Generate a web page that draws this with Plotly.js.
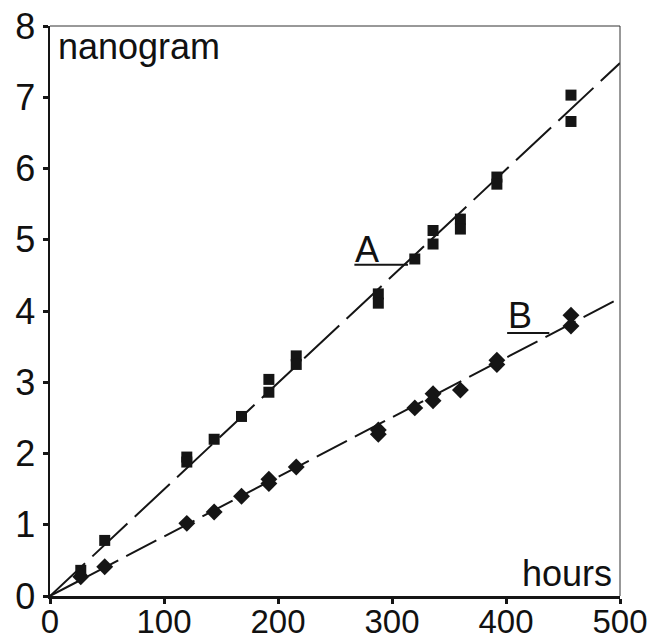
<!DOCTYPE html>
<html>
<head>
<meta charset="utf-8">
<script src="https://cdn.plot.ly/plotly-3.0.1.min.js"></script>
<style>html,body{margin:0;padding:0;background:#fff;}#chart{width:660px;height:643px;}</style>
</head>
<body>
<div id="chart"></div>
<script>
// Series A (squares)
const hoursA = [27, 48, 120, 120, 144, 168, 192, 192, 216, 216, 288, 288, 320, 336, 336, 360, 360, 392, 392, 457, 457];
const ngA    = [0.36, 0.78, 1.95, 1.88, 2.20, 2.52, 3.04, 2.86, 3.37, 3.25, 4.24, 4.11, 4.73, 5.13, 4.94, 5.29, 5.15, 5.88, 5.78, 7.03, 6.66];
// Series B (diamonds)
const hoursB = [27, 48, 120, 144, 168, 192, 192, 216, 288, 288, 320, 336, 336, 360, 392, 392, 457, 457];
const ngB    = [0.27, 0.41, 1.02, 1.18, 1.40, 1.58, 1.64, 1.81, 2.27, 2.33, 2.64, 2.84, 2.74, 2.89, 3.25, 3.31, 3.79, 3.94];
// Fitted lines
const fitX = [0, 500];
const fitA = [0, 7.48];
const fitB = [0, 4.18];
// Ticks
const xTicks = [0, 100, 200, 300, 400, 500];
const yTicks = [0, 1, 2, 3, 4, 5, 6, 7, 8];

const ink = '#151515';
const font = 'Liberation Sans, Arial, Helvetica, sans-serif';

const data = [
  {x: fitX, y: fitA, mode: 'lines', line: {color: ink, width: 2, dash: '48px,10px'}, hoverinfo: 'skip'},
  {x: fitX, y: fitB, mode: 'lines', line: {color: ink, width: 2, dash: '34px,9px'}, hoverinfo: 'skip'},
  {x: hoursA, y: ngA, mode: 'markers', marker: {symbol: 'square', size: 11, color: ink}},
  {x: hoursB, y: ngB, mode: 'markers', marker: {symbol: 'diamond', size: 13, color: ink}}
];

const layout = {
  width: 660, height: 643,
  margin: {l: 50, r: 40, t: 26, b: 47},
  paper_bgcolor: '#fff', plot_bgcolor: '#fff',
  showlegend: false,
  font: {family: font, size: 36, color: '#111'},
  xaxis: {
    range: [0, 500], tickvals: xTicks, ticktext: xTicks.map(String),
    showgrid: false, zeroline: false, showline: true, linewidth: 2.5, linecolor: ink,
    ticks: 'outside', ticklen: 5, tickwidth: 3, tickcolor: ink,
    ticklabelstandoff: -10,
    tickfont: {family: font, size: 33, color: '#111'}
  },
  yaxis: {
    range: [0, 8], tickvals: yTicks, ticktext: yTicks.map(String),
    showgrid: false, zeroline: false, showline: true, linewidth: 2.5, linecolor: ink,
    ticks: 'outside', ticklen: 5, tickwidth: 3, tickcolor: ink,
    tickfont: {family: font, size: 36, color: '#111'}
  },
  shapes: [
    {type: 'line', xref: 'paper', yref: 'paper', x0: 0, x1: 1, y0: 1, y1: 1, line: {color: '#333', width: 1}},
    {type: 'line', xref: 'paper', yref: 'paper', x0: 1, x1: 1, y0: 0, y1: 1, line: {color: '#333', width: 1}},
    {type: 'line', xref: 'x', yref: 'y', x0: 267, x1: 314, y0: 4.65, y1: 4.65, line: {color: ink, width: 2}},
    {type: 'line', xref: 'x', yref: 'y', x0: 401, x1: 438, y0: 3.69, y1: 3.69, line: {color: ink, width: 2}}
  ],
  annotations: [
    {text: 'nanogram', xref: 'paper', yref: 'paper', x: 0.01, y: 1.004, xanchor: 'left', yanchor: 'top', showarrow: false, font: {family: font, size: 36, color: '#111'}},
    {text: 'hours', xref: 'paper', yref: 'paper', x: 0.99, y: 0.0, xanchor: 'right', yanchor: 'bottom', showarrow: false, font: {family: font, size: 36, color: '#111'}},
    {text: 'A', xref: 'x', yref: 'y', x: 278, y: 4.86, showarrow: false, font: {family: font, size: 36, color: '#111'}},
    {text: 'B', xref: 'x', yref: 'y', x: 412, y: 3.93, showarrow: false, font: {family: font, size: 36, color: '#111'}}
  ]
};

Plotly.newPlot('chart', data, layout, {staticPlot: true, displayModeBar: false});
</script>
</body>
</html>
